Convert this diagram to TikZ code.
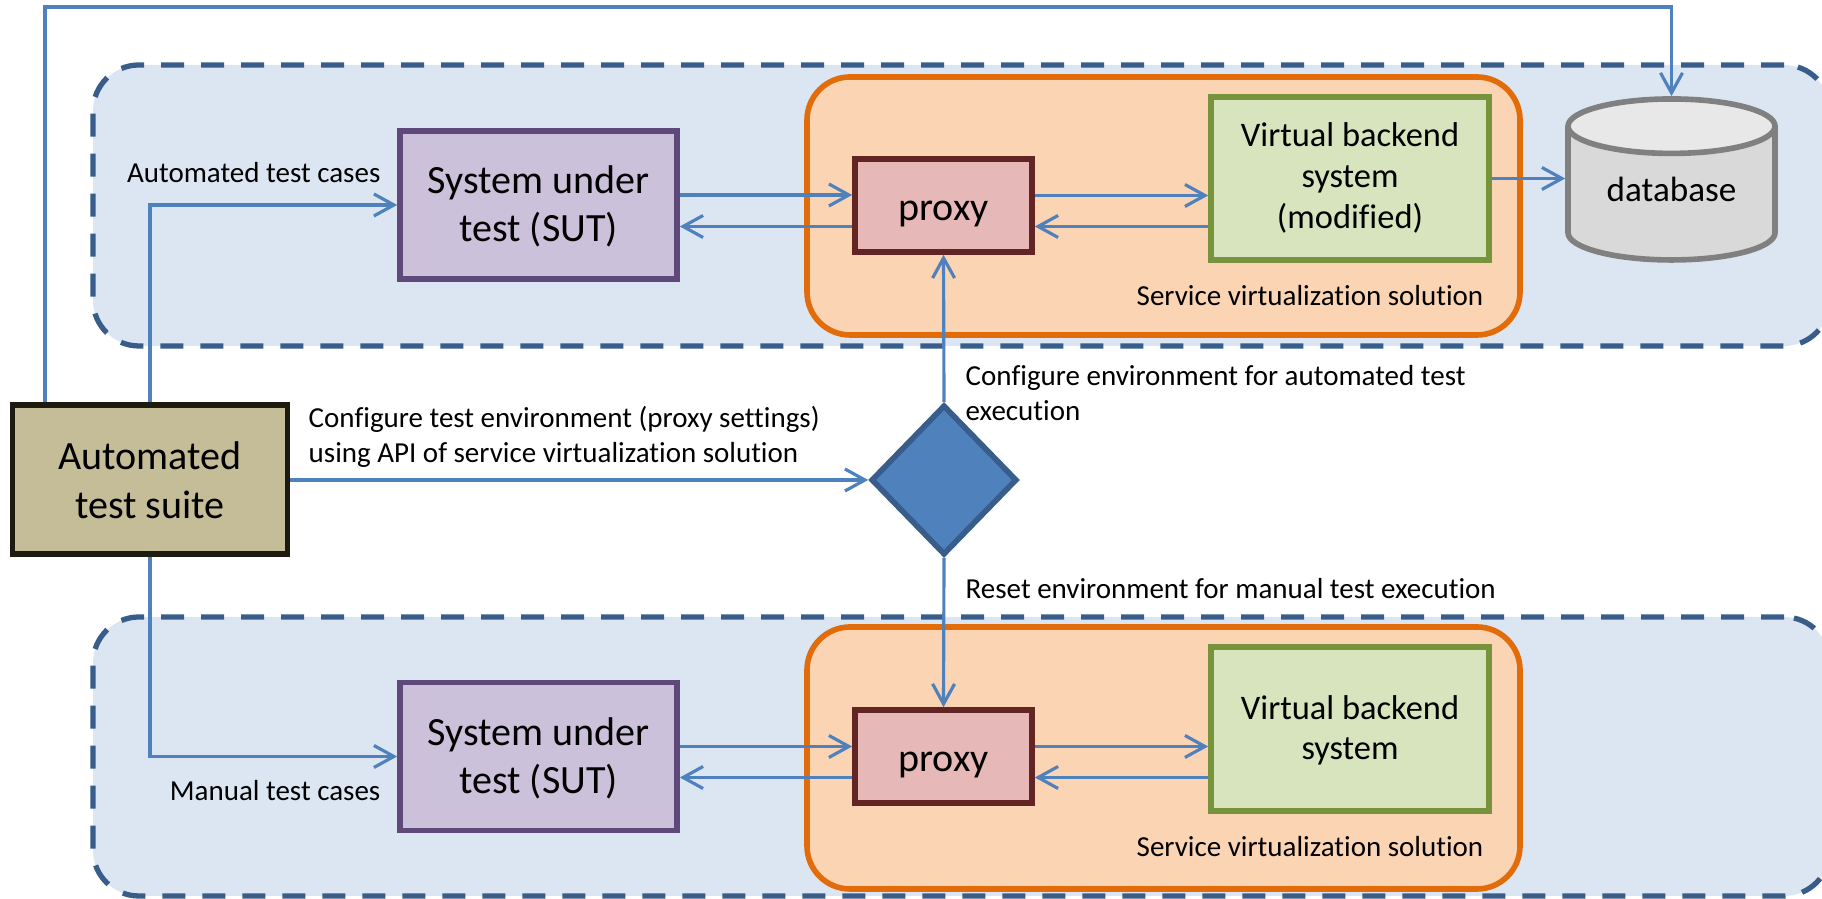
\documentclass[tikz,border=0pt]{standalone}
\usepackage{fontspec}
\setmainfont[Ligatures=CommonOff]{Carlito}
\usetikzlibrary{shapes.geometric,arrows.meta}

\definecolor{regionfill}{HTML}{DCE6F2}
\definecolor{regionline}{HTML}{385D8A}
\definecolor{svfill}{HTML}{FBD4B4}
\definecolor{svline}{HTML}{E36C0A}
\definecolor{sutfill}{HTML}{CCC1DA}
\definecolor{sutline}{HTML}{5F497A}
\definecolor{proxyfill}{HTML}{E6B9B8}
\definecolor{proxyline}{HTML}{632523}
\definecolor{backendfill}{HTML}{D7E4BD}
\definecolor{backendline}{HTML}{77933C}
\definecolor{suitefill}{HTML}{C4BD97}
\definecolor{suiteline}{HTML}{1D1B10}
\definecolor{connline}{HTML}{4F81BD}

\tikzset{
	region/.style={draw=regionline, fill=regionfill, line width=1.5pt, dash pattern=on 0.23cm off 0.17cm, rounded corners=0.46cm, minimum width=17.37cm},
	svbox/.style={draw=svline, fill=svfill, line width=1.6pt, rounded corners=0.43cm, minimum width=7.13cm},
	sutbox/.style={draw=sutline, fill=sutfill, line width=1.6pt, minimum width=2.77cm, minimum height=1.48cm, align=center, inner sep=0pt, text height=21pt, text depth=0pt, font=\fontsize{11.4}{13.7}\selectfont},
	proxybox/.style={draw=proxyline, fill=proxyfill, line width=1.6pt, minimum width=1.77cm, minimum height=0.93cm, inner sep=0pt, font=\fontsize{11.4}{13.7}\selectfont, execute at begin node={\rule{0pt}{10.5pt}}},
	backendbox/.style={draw=backendline, fill=backendfill, line width=1.6pt, minimum width=2.78cm, align=center, inner sep=0pt, text depth=0pt, font=\fontsize{9.8}{11.6}\selectfont},
	lbl/.style={inner sep=0pt, align=left, font=\fontsize{8.25}{10.1}\selectfont},
	conn/.style={draw=connline, line width=0.9pt, -{Straight Barb[length=0.2cm,width=0.22cm]}}
}

\begin{document}
\begin{tikzpicture}
	\path[use as bounding box, clip] (0,0) rectangle (18.22,8.99);

	\node[region, minimum height=2.81cm] (region1) at (9.615,6.935) {};
	\node[region, minimum height=2.79cm] (region2) at (9.615,1.425) {};

	\node[svbox, minimum height=2.58cm] (sv1) at (11.635,6.93) {};
	\node[svbox, minimum height=2.62cm] (sv2) at (11.635,1.41) {};

	\node[sutbox] (sut1) at (5.385,6.94) {System under\\test (SUT)};
	\node[sutbox] (sut2) at (5.385,1.425) {System under\\test (SUT)};
	\node[proxybox] (proxy1) at (9.435,6.935) {proxy};
	\node[proxybox] (proxy2) at (9.435,1.425) {proxy};
	\node[backendbox, minimum height=1.63cm, text height=28.2pt] (backend1) at (13.50,7.205) {Virtual backend\\system\\(modified)};
	\node[backendbox, minimum height=1.64cm, text height=17.6pt] (backend2) at (13.50,1.70) {Virtual backend\\system};

	\node[cylinder, shape border rotate=90, aspect=0.42, draw=black!50, line width=1.6pt, cylinder uses custom fill, cylinder body fill=black!15, cylinder end fill=black!9, minimum width=2.07cm, minimum height=1.61cm, inner sep=0pt, font=\fontsize{10}{12.2}\selectfont, execute at begin node={\rule[-3pt]{0pt}{3pt}}] (db) at (16.715,7.045) {database};

	\node[draw=suiteline, fill=suitefill, line width=1.7pt, minimum width=2.75cm, minimum height=1.49cm, align=center, inner sep=0pt, font=\fontsize{11.4}{13.9}\selectfont] (suite) at (1.50,4.19) {Automated\\test suite};
	\node[diamond, draw=regionline, fill=connline, line width=1.6pt, minimum width=1.46cm, minimum height=1.50cm, inner sep=0pt] (api) at (9.44,4.19) {};

	\node[lbl, anchor=east] (autocases) at (3.81,7.26) {Automated test cases};
	\node[lbl, anchor=east] (manualcases) at (3.81,1.08) {Manual test cases};
	\node[lbl, anchor=east] (svlabel1) at (14.84,6.03) {Service virtualization solution};
	\node[lbl, anchor=east] (svlabel2) at (14.84,0.52) {Service virtualization solution};
	\node[lbl, anchor=west] (apilabel) at (3.08,4.62) {Configure test environment (proxy settings)\\using API of service virtualization solution};
	\node[lbl, anchor=west] (cfglabel) at (9.65,5.06) {Configure environment for automated test\\execution};
	\node[lbl, anchor=west] (resetlabel) at (9.65,3.10) {Reset environment for manual test execution};

	\coordinate (feed) at (1.0,8.92);

	\draw[conn] ([xshift=-1.05cm]suite.north) |- (feed) -| (db.north);
	\draw[conn] (suite.north) |- (sut1.west);
	\draw[conn] (suite.south) |- (sut2.west);
	\draw[conn] (suite.east) -- (api.west);
	\draw[conn] (api.north) -- (proxy1.south);
	\draw[conn] (api.south) -- (proxy2.north);

	\draw[conn] ([yshift=0.1cm]sut1.east) -- ([yshift=0.1cm]sut1.east -| proxy1.west);
	\draw[conn] ([yshift=-0.21cm]proxy1.west) -- ([yshift=-0.21cm]proxy1.west -| sut1.east);
	\draw[conn] ([yshift=0.1cm]proxy1.east) -- ([yshift=0.1cm]proxy1.east -| backend1.west);
	\draw[conn] ([yshift=-0.21cm]backend1.west |- proxy1.east) -- ([yshift=-0.21cm]proxy1.east);
	\draw[conn] (backend1.east) -- (backend1.east -| db.west);

	\draw[conn] ([yshift=0.1cm]sut2.east) -- ([yshift=0.1cm]sut2.east -| proxy2.west);
	\draw[conn] ([yshift=-0.21cm]proxy2.west) -- ([yshift=-0.21cm]proxy2.west -| sut2.east);
	\draw[conn] ([yshift=0.1cm]proxy2.east) -- ([yshift=0.1cm]proxy2.east -| backend2.west);
	\draw[conn] ([yshift=-0.21cm]backend2.west |- proxy2.east) -- ([yshift=-0.21cm]proxy2.east);
\end{tikzpicture}
\end{document}
